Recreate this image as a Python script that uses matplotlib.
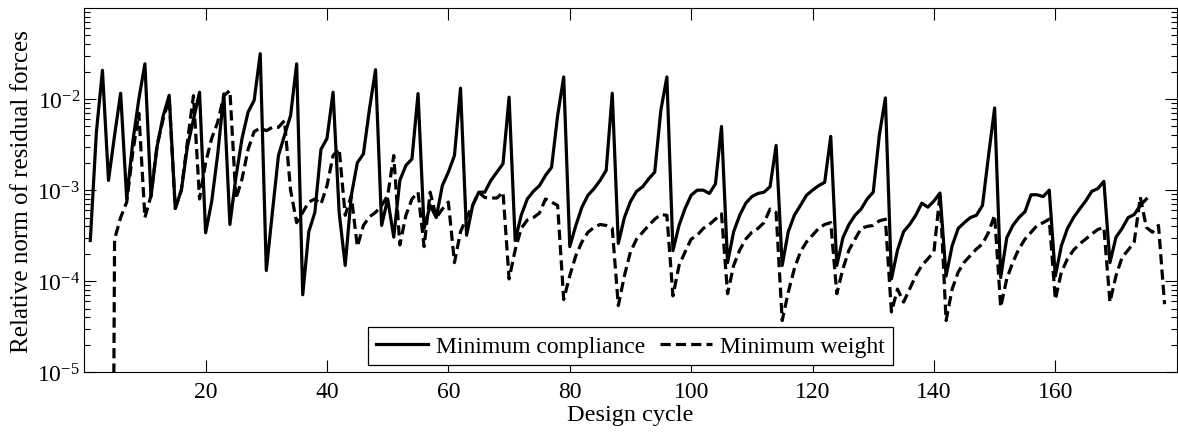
import numpy as np
import matplotlib
matplotlib.use("Agg")
from matplotlib import pyplot as plt
from matplotlib.ticker import LogLocator, NullFormatter, FixedLocator, NullLocator

# relative residual norm per design cycle
cycles_compliance = np.arange(1, 176)
residual_compliance = [
    2.8e-4, 4.3e-3, 2.07e-2, 1.28e-3, 4.0e-3, 1.16e-2, 8.0e-4, 3.4e-3, 1.0e-2, 2.44e-2,
    8.5e-4, 3.0e-3, 6.5e-3, 1.1e-2, 6.3e-4, 1.0e-3, 3.0e-3, 6.0e-3, 1.19e-2, 3.4e-4,
    7.5e-4, 2.5e-3, 1.14e-2, 4.2e-4, 1.4e-3, 3.7e-3, 7.2e-3, 9.7e-3, 3.15e-2, 1.31e-4,
    5.7e-4, 2.4e-3, 4.0e-3, 6.6e-3, 2.44e-2, 7.1e-5, 3.5e-4, 5.7e-4, 2.8e-3, 3.7e-3,
    1.19e-2, 5.7e-4, 1.49e-4, 8.7e-4, 2.0e-3, 2.5e-3, 7.8e-3, 2.1e-2, 4.1e-4, 8.0e-4,
    3.05e-4, 1.28e-3, 1.87e-3, 2.2e-3, 1.15e-2, 3.8e-4, 6.8e-4, 5.0e-4, 1.12e-3, 1.58e-3,
    2.4e-3, 1.32e-2, 3.2e-4, 6.8e-4, 9.5e-4, 9.5e-4, 1.28e-3, 1.58e-3, 1.95e-3, 1.05e-2,
    2.8e-4, 5.3e-4, 8.0e-4, 9.7e-4, 1.12e-3, 1.45e-3, 1.78e-3, 6.6e-3, 1.75e-2, 2.4e-4,
    4.1e-4, 6.5e-4, 8.8e-4, 1.04e-3, 1.28e-3, 1.65e-3, 1.16e-2, 2.6e-4, 5.0e-4, 7.5e-4,
    9.7e-4, 1.09e-3, 1.33e-3, 1.58e-3, 7.5e-3, 1.75e-2, 2.17e-4, 4.1e-4, 6.3e-4, 8.8e-4,
    1.0e-3, 1.0e-3, 9.2e-4, 1.17e-3, 5.0e-3, 1.6e-4, 3.5e-4, 5.3e-4, 7.2e-4, 8.5e-4,
    9.2e-4, 9.5e-4, 1.09e-3, 3.1e-3, 1.49e-4, 3.5e-4, 5.3e-4, 6.8e-4, 8.8e-4, 1.0e-3,
    1.12e-3, 1.22e-3, 3.9e-3, 1.49e-4, 3.0e-4, 4.2e-4, 5.3e-4, 6.2e-4, 8.0e-4, 9.5e-4,
    4.0e-3, 1.03e-2, 1.06e-4, 2.2e-4, 3.5e-4, 4.2e-4, 5.3e-4, 7.2e-4, 6.5e-4, 7.6e-4,
    9.3e-4, 1.14e-4, 2.45e-4, 3.8e-4, 4.4e-4, 5.0e-4, 5.3e-4, 6.8e-4, 2.4e-3, 8.0e-3,
    1.1e-4, 3.0e-4, 4.1e-4, 5.0e-4, 5.8e-4, 8.9e-4, 8.9e-4, 8.5e-4, 1.0e-3, 1.14e-4,
    2.45e-4, 3.8e-4, 5.0e-4, 6.2e-4, 7.6e-4, 9.7e-4, 1.04e-3, 1.25e-3, 1.6e-4, 3.05e-4,
    3.8e-4, 5.0e-4, 5.4e-4, 6.8e-4, 8.0e-4,
]

# first value is below the axis range
cycles_weight = np.arange(4, 179)
residual_weight = [
    1e-16, 2.9e-4, 5.0e-4, 7.4e-4, 2.6e-3, 7.0e-3, 5.0e-4, 8.7e-4, 3.1e-3, 6.0e-3,
    1.0e-2, 6.3e-4, 1.0e-3, 3.4e-3, 1.09e-2, 8.0e-4, 2.0e-3, 3.7e-3, 5.6e-3, 1.09e-2,
    1.24e-2, 8.0e-4, 1.33e-3, 2.8e-3, 4.4e-3, 4.8e-3, 4.5e-3, 4.9e-3, 4.9e-3, 5.8e-3,
    1.0e-3, 4.4e-4, 5.7e-4, 7.4e-4, 8.0e-4, 7.0e-4, 1.12e-3, 2.4e-3, 2.85e-3, 5.3e-4,
    8.7e-4, 2.4e-4, 4.1e-4, 5.1e-4, 5.7e-4, 6.8e-4, 8.7e-4, 2.4e-3, 2.5e-4, 5.3e-4,
    8.0e-4, 9.5e-4, 2.4e-4, 9.5e-4, 5.0e-4, 6.2e-4, 7.4e-4, 1.6e-4, 3.5e-4, 5.0e-4,
    6.8e-4, 9.5e-4, 8.3e-4, 8.2e-4, 8.2e-4, 9.5e-4, 1.06e-4, 2.2e-4, 3.8e-4, 4.7e-4,
    5.0e-4, 5.6e-4, 8.0e-4, 7.4e-4, 6.8e-4, 6.3e-5, 1.15e-4, 1.91e-4, 2.7e-4, 3.45e-4,
    3.9e-4, 4.2e-4, 4.1e-4, 3.8e-4, 5.4e-5, 1.15e-4, 2.1e-4, 2.9e-4, 3.45e-4, 4.1e-4,
    4.8e-4, 5.4e-4, 5.3e-4, 6.9e-5, 1.49e-4, 2.1e-4, 2.9e-4, 3.2e-4, 3.8e-4, 4.2e-4,
    4.8e-4, 5.5e-4, 7.3e-5, 1.49e-4, 2.2e-4, 2.9e-4, 3.45e-4, 3.8e-4, 4.4e-4, 6.2e-4,
    5.7e-4, 3.7e-5, 7.6e-5, 1.37e-4, 2.1e-4, 2.7e-4, 3.2e-4, 3.8e-4, 4.2e-4, 4.4e-4,
    7.3e-5, 1.37e-4, 2.2e-4, 2.9e-4, 3.8e-4, 4.0e-4, 4.1e-4, 4.6e-4, 4.8e-4, 4.6e-5,
    8.2e-5, 5.9e-5, 8.2e-5, 1.15e-4, 1.49e-4, 1.76e-4, 2.1e-4, 9.1e-4, 3.7e-5, 8.2e-5,
    1.26e-4, 1.62e-4, 1.91e-4, 2.26e-4, 2.57e-4, 3.45e-4, 5.3e-4, 5.2e-5, 1.06e-4, 1.62e-4,
    2.26e-4, 2.9e-4, 3.45e-4, 4.1e-4, 4.4e-4, 4.8e-4, 6.3e-5, 1.26e-4, 1.76e-4, 2.2e-4,
    2.57e-4, 2.9e-4, 3.3e-4, 3.7e-4, 3.9e-4, 5.9e-5, 1.15e-4, 1.83e-4, 2.2e-4, 2.7e-4,
    8.4e-4, 3.9e-4, 3.45e-4, 4.1e-4, 5.6e-5,
]

x_ticks = [20, 40, 60, 80, 100, 120, 140, 160]
y_ticks = [1e-5, 1e-4, 1e-3, 1e-2]
y_tick_labels = ["$10^{-5}$", "$10^{-4}$", "$10^{-3}$", "$10^{-2}$"]

plt.rcParams["font.family"] = ["Liberation Serif", "DejaVu Serif"]
plt.rcParams["mathtext.fontset"] = "custom"
plt.rcParams["mathtext.rm"] = "Liberation Serif"
plt.rcParams["mathtext.it"] = "Liberation Serif:italic"
plt.rcParams["font.size"] = 17

fig = plt.figure(figsize=(11.78, 4.35), dpi=100)
ax = fig.add_axes([0.0715, 0.1418, 0.9274, 0.8375])

ax.plot(cycles_compliance, residual_compliance, color="black", lw=2.3,
        linestyle="-", label="Minimum compliance")
ax.plot(cycles_weight, residual_weight, color="black", lw=2.3,
        linestyle=(0, (3.2, 1.6)), label="Minimum weight")

ax.set_yscale("log", nonpositive="clip")
ax.set_xlim(0, 180)
ax.set_ylim(1e-5, 1e-1)

ax.xaxis.set_major_locator(FixedLocator(x_ticks))
ax.xaxis.set_minor_locator(NullLocator())
ax.set_yticks(y_ticks)
ax.set_yticklabels(y_tick_labels)
ax.yaxis.set_minor_locator(LogLocator(base=10, subs=np.arange(2, 10), numticks=20))
ax.yaxis.set_minor_formatter(NullFormatter())

ax.tick_params(which="both", direction="in", top=True, right=True, width=0.8,
               labelsize=17)
ax.tick_params(axis="x", pad=6)
ax.tick_params(axis="y", pad=3)
ax.tick_params(which="major", length=8.5)
ax.tick_params(which="minor", length=4.5)
for sp in ax.spines.values():
    sp.set_linewidth(0.8)

ax.set_xlabel("Design cycle", fontsize=17.5, labelpad=2)
ax.set_ylabel("Relative norm of residual forces", fontsize=18, labelpad=3)

leg = ax.legend(loc="lower center", ncol=2, frameon=True, fancybox=False,
                edgecolor="black", framealpha=1, fontsize=17, borderpad=0.35,
                handlelength=2.2, handletextpad=0.35, columnspacing=0.6,
                borderaxespad=0.3)
leg.get_frame().set_linewidth(0.9)

fig.savefig("out.png", dpi=100)
